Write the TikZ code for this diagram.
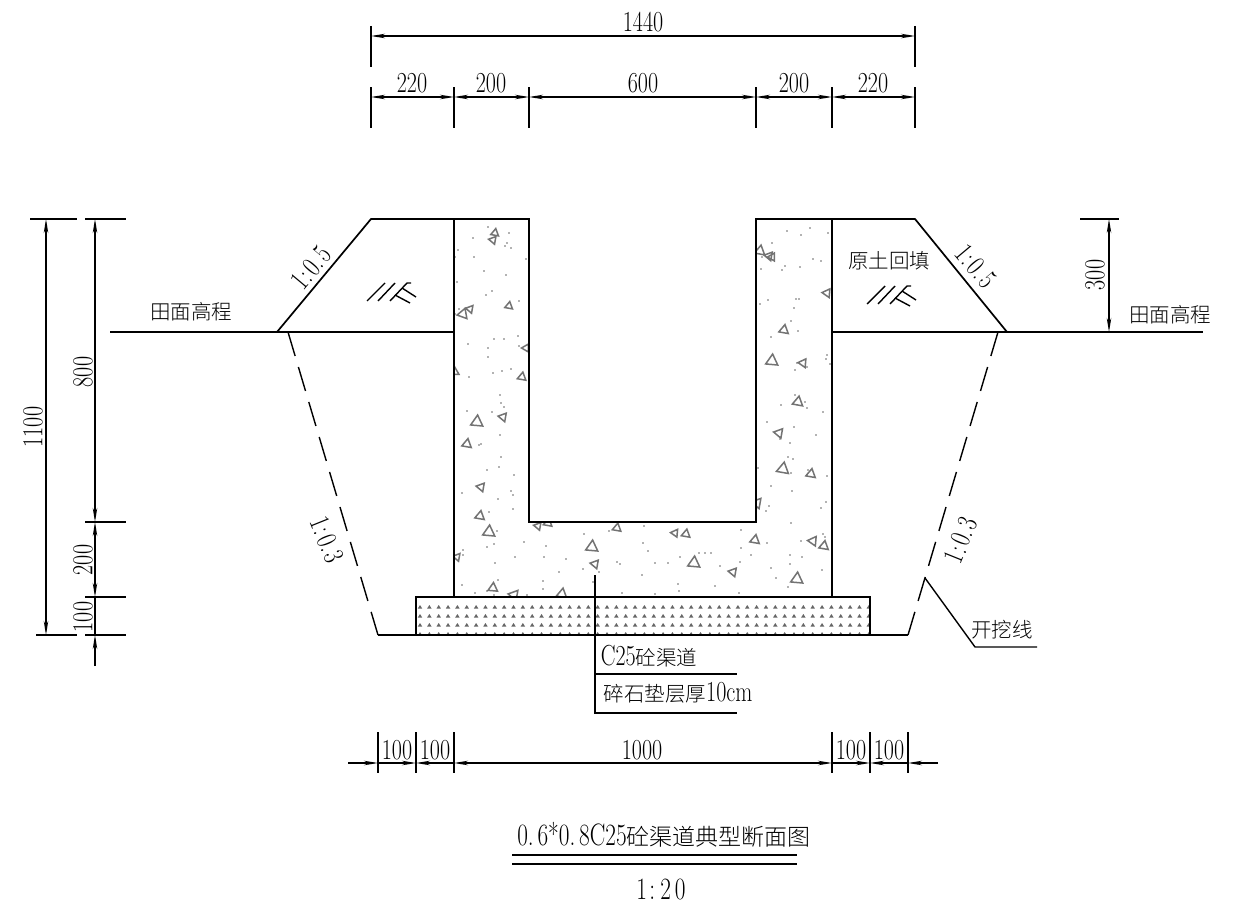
\documentclass[tikz,border=0pt]{standalone}
\usepackage{fontspec}
\usepackage{graphicx}
\usetikzlibrary{arrows.meta}
\newfontfamily\cjkf{Noto Sans CJK SC Light}
\newcommand{\dg}[1]{{\fontsize{29}{29}\selectfont\scalebox{0.76}[1]{#1}}}
\newcommand{\dgt}[1]{{\fontsize{31}{31}\selectfont\scalebox{0.75}[1]{#1}}}
\newcommand{\cjt}[1]{{\cjkf\fontsize{20.5}{21}\selectfont #1}}
\newcommand{\cjtt}[1]{{\cjkf\fontsize{23}{23}\selectfont #1}}
\tikzset{
  mainln/.style={line width=1.7pt,line cap=butt},
  thinln/.style={line width=1.4pt},
  tickln/.style={line width=1.7pt},
  dimboth/.style={line width=1.25pt,arrows={Stealth[length=14pt,width=4.5pt]-Stealth[length=14pt,width=4.5pt]}},
  dimend/.style={line width=1.25pt,arrows={-Stealth[length=14pt,width=4.5pt]}},
  txt/.style={inner sep=0pt,outer sep=0pt,anchor=center},
  tri/.style={draw=black!55,line width=1.5pt,line join=miter},
  dotc/.style={fill=black!60},
  grav/.style={fill=black!60}
}
\begin{document}
\begin{tikzpicture}[x=1pt,y=-1pt]
\fill[white] (0,0) rectangle (1239,907);
\useasboundingbox (0,0) rectangle (1239,907);
% outline points
\coordinate (gl) at (110,332); \coordinate (sl) at (277,332);
\coordinate (tl) at (371,219); \coordinate (wl) at (454,219);
\coordinate (wlm) at (454,332); \coordinate (wlb) at (454,597);
\coordinate (il) at (529,219); \coordinate (ilb) at (529,522);
\coordinate (ir) at (756,219); \coordinate (irb) at (756,522);
\coordinate (wr) at (832,219); \coordinate (wrm) at (832,332); \coordinate (wrb) at (832,597);
\coordinate (tr) at (915,219); \coordinate (sr) at (1007,332); \coordinate (gr) at (1203,332);
\coordinate (gv1) at (416,597); \coordinate (gv2) at (870,635);
\coordinate (bl) at (378,635); \coordinate (br) at (908,635);
\coordinate (dl) at (288,332); \coordinate (dr) at (998,332);
% concrete speckle
\begin{scope}
\clip (wl) -- (il) -- (ilb) -- (irb) -- (ir) -- (wr) -- (wrb) -- (wlb) -- cycle;
\foreach \x/\y in {488/227,473/238,509/233,507/243,505/246,511/248,458/250,455/257,474/257,526/259,484/271,506/275,457/282,492/291,486/295,519/301,459/309,455/314,494/339,504/339,518/336,
468/344,488/348,488/357,519/346,469/377,493/373,502/371,511/369,500/395,501/403,504/407,467/411,492/412,500/435,479/445,481/444,501/457,487/470,499/467,514/475,462/493,511/491,513/495,498/499,513/509,489/512,497/531,487/547,494/544,524/542,515/557,463/550,463/555,495/563,498/580,462/585,475/593,487/591,494/595,527/595,
584/534,609/531,644/526,643/543,648/551,680/557,699/553,705/553,711/553,741/530,741/548,740/562,544/557,546/546,566/559,559/572,583/569,599/572,617/562,620/564,655/563,668/563,720/566,642/575,593/582,543/581,543/589,678/584,679/591,715/586,622/593,655/594,739/593,
787/231,801/235,810/228,828/233,772/243,762/257,813/259,821/261,761/269,782/270,785/266,800/267,760/304,768/300,796/299,799/299,794/308,791/321,798/331,771/337,827/355,826/359,830/364,797/363,807/367,795/370,795/395,805/402,
781/405,807/408,823/412,767/422,794/427,816/435,780/439,790/443,788/457,793/459,758/468,791/473,808/470,827/476,771/486,792/491,826/502,821/508,769/506,766/511,791/523,823/534,825/537,801/541,767/543,751/555,790/555,802/557,790/564,771/568,822/570,776/578,788/587}
  {\fill[dotc] (\x,\y) circle (0.8pt);}
\foreach \x/\y/\r/\s in {495/233/80/4.5,493/240/50/4.5,463/314/70/6,470/309/50/4.5,509/306/80/4.5,526/348/60/4.5,455/372/90/4.5,522/377/80/5,477/422/85/7,503/417/50/5,467/444/80/5.5,481/487/50/5,480/516/80/5.5,489/532/85/7,457/557/50/4.5,493/588/85/5.5,514/595/50/6,
538/526/50/4.5,548/523/80/5,617/528/80/5,675/533/55/4.5,686/534/80/5,592/547/85/7,595/564/50/5,694/563/85/7,733/572/50/5,562/594/80/6,
760/251/80/6,769/256/50/5,772/257/60/4.5,827/293/55/5,784/330/80/5.5,772/361/85/7,803/363/55/5,798/402/80/6,779/433/50/5.5,783/469/80/7,811/474/80/5.5,757/503/50/6,755/540/80/5.5,813/541/55/5.5,824/546/80/5.5,797/579/85/7}
  {\draw[tri] ([shift={(\x,\y)}]-\r:\s) -- ([shift={(\x,\y)}]-\r+120:\s) -- ([shift={(\x,\y)}]-\r+240:\s) -- cycle;}
\end{scope}
% gravel
\begin{scope}
\clip (gv1) rectangle (gv2);
\foreach \y in {607,616,625,634}
  \foreach \i in {0,...,48}
    {\fill[grav] ({420+9.35*\i-2.2},\y+1.5) -- ({420+9.35*\i+2.2},\y+1.5) -- ({420+9.35*\i},\y-2) -- cycle;}
\end{scope}
% main lines
\draw[mainln] (gl) -- (wlm);
\draw[mainln] (sl) -- (tl) -- (il) -- (ilb) -- (irb) -- (ir) -- (tr) -- (sr);
\draw[mainln] (wl) -- (wlb);
\draw[mainln] (wr) -- (wrb);
\draw[mainln] (wrm) -- (gr);
\draw[mainln] (gv1) rectangle (gv2);
\draw[mainln] (bl) -- (br);
\draw[thinln,dash pattern=on 25pt off 11.5pt] (dl) -- (bl);
\draw[thinln,dash pattern=on 25pt off 11.5pt] (dr) -- (br);
% excavation leader
\coordinate (lk0) at (925,578); \coordinate (lk1) at (975,647); \coordinate (lk2) at (1037,647);
\draw[thinln] (lk0) -- (lk1) -- (lk2);
\node[txt] (kwx) at (1002,630) {\cjt{开挖线}};
% concrete leader
\coordinate (ml0) at (595,575); \coordinate (ml1) at (595,674); \coordinate (ml2) at (595,713);
\coordinate (ml3) at (737,674); \coordinate (ml4) at (737,713);
\draw[thinln] (ml0) -- (ml2) -- (ml4);
\draw[thinln] (ml1) -- (ml3);
\node[txt] (c25) at (649,656) {\dg{C25}\cjt{砼渠道}};
\node[txt] (sui) at (678,693) {\cjt{碎石垫层厚}\dg{10cm}};
% hatch symbols
\foreach \n/\ox/\oy in {hl/367/301,hr/867/304}{
  \begin{scope}[shift={(\ox,\oy)}]
  \draw[thinln] (0,0) -- (18,-18);
  \draw[thinln] (11,0) -- (28,-18);
  \draw[thinln] (23,0) -- (40,-18) -- (44,-18);
  \draw[thinln] (28,-6) -- (43,2);
  \draw[thinln] (35,-13) -- (49,-4);
  \end{scope}
}
% top dimensions
\coordinate (a0) at (371,36); \coordinate (a1) at (915,36);
\draw[tickln] ([yshift=10pt]a0) -- ([yshift=-31pt]a0);
\draw[tickln] ([yshift=10pt]a1) -- ([yshift=-31pt]a1);
\draw[dimboth] (a0) -- (a1);
\foreach \n/\x in {a/371,b/454,c/529,d/756,e/832,f/915}{
  \coordinate (t\n) at (\x,97);
  \draw[tickln] ([yshift=10pt]t\n) -- ([yshift=-31pt]t\n);
}
\draw[dimboth] (ta) -- (tb);
\draw[dimboth] (tb) -- (tc);
\draw[dimboth] (tc) -- (td);
\draw[dimboth] (td) -- (te);
\draw[dimboth] (te) -- (tf);
\node[txt] (t1440) at (643,22) {\dg{1440}};
\node[txt] (t220a) at (412,83) {\dg{220}};
\node[txt] (t200a) at (491,83) {\dg{200}};
\node[txt] (t600) at (643,83) {\dg{600}};
\node[txt] (t200b) at (794,83) {\dg{200}};
\node[txt] (t220b) at (873,83) {\dg{220}};
% left dimensions
\coordinate (v0) at (46,219); \coordinate (v1) at (46,635);
\coordinate (w0) at (95,219); \coordinate (w1) at (95,522); \coordinate (w2) at (95,597); \coordinate (w3) at (95,635); \coordinate (w4) at (95,666);
\draw[tickln] ([xshift=-16pt]v0) -- ([xshift=31pt]v0);
\draw[tickln] ([xshift=-10pt]v1) -- ([xshift=31pt]v1);
\draw[tickln] ([xshift=-10pt]w0) -- ([xshift=31pt]w0);
\draw[tickln] ([xshift=-10pt]w1) -- ([xshift=31pt]w1);
\draw[tickln] ([xshift=-10pt]w2) -- ([xshift=31pt]w2);
\draw[tickln] ([xshift=-10pt]w3) -- ([xshift=31pt]w3);
\draw[dimboth] (v0) -- (v1);
\draw[dimboth] (w0) -- (w1);
\draw[dimboth] (w1) -- (w2);
\draw[line width=1.25pt] (w2) -- (w3);
\draw[dimend] (w4) -- (w3);
\node[txt,rotate=90] (l1100) at (33,427) {\dg{1100}};
\node[txt,rotate=90] (l800) at (83,372) {\dg{800}};
\node[txt,rotate=90] (l200) at (83,560) {\dg{200}};
\node[txt,rotate=90] (l100) at (83,617) {\dg{100}};
% right dimension
\coordinate (r0) at (1109,219); \coordinate (r1) at (1109,332);
\draw[tickln] ([xshift=-29pt]r0) -- ([xshift=10pt]r0);
\draw[dimboth] (r0) -- (r1);
\node[txt,rotate=90] (r300) at (1095,275) {\dg{300}};
% bottom dimensions
\foreach \n/\x in {a/378,b/416,c/454,d/832,e/870,f/908}{
  \coordinate (b\n) at (\x,763);
  \draw[tickln] ([yshift=31pt]b\n) -- ([yshift=-10pt]b\n);
}
\coordinate (bx0) at (348,763); \coordinate (bx1) at (938,763);
\draw[dimend] (bx0) -- (ba);
\draw[dimend] (ba) -- (bb);
\draw[dimend] (bc) -- (bb);
\draw[dimboth] (bc) -- (bd);
\draw[dimend] (bd) -- (be);
\draw[dimend] (bf) -- (be);
\draw[dimend] (bx1) -- (bf);
\node[txt] (b100a) at (397,750) {\dg{100}};
\node[txt] (b100b) at (435,750) {\dg{100}};
\node[txt] (b1000) at (642,750) {\dg{1000}};
\node[txt] (b100c) at (851,750) {\dg{100}};
\node[txt] (b100d) at (889,750) {\dg{100}};
% labels
\node[txt] (tm1) at (191,312) {\cjt{田面高程}};
\node[txt] (tm2) at (1170,315) {\cjt{田面高程}};
\node[txt] (ytht) at (889,261) {\cjt{原土回填}};
\node[txt,rotate=50] (s1) at (311,268) {\dg{1\kern1pt:\kern3pt 0.\kern3pt 5}};
\node[txt,rotate=-50] (s2) at (976,266) {\dg{1\kern1pt:\kern3pt 0.\kern3pt 5}};
\node[txt,rotate=-68] (s3) at (327,540) {\dg{1\kern1pt:\kern3pt 0.\kern3pt 3}};
\node[txt,rotate=68] (s4) at (961,540) {\dg{1\kern1pt:\kern3pt 0.\kern3pt 3}};
% title
\node[txt] (ttl) at (664,835) {\dgt{0.\kern5pt 6*0.\kern5pt 8C25}\cjtt{砼渠道典型断面图}};
\coordinate (u0) at (512,855); \coordinate (u1) at (797,855);
\coordinate (u2) at (512,864); \coordinate (u3) at (797,864);
\draw[line width=2.2pt] (u0) -- (u1);
\draw[line width=1.6pt] (u2) -- (u3);
\node[txt] (scl) at (661,889) {\dgt{1\kern3pt:\kern7pt 2\kern5pt 0}};
\end{tikzpicture}
\end{document}
